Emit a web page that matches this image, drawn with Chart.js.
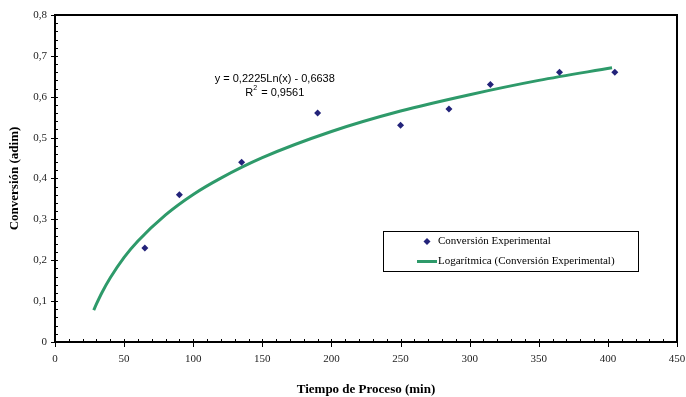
<!DOCTYPE html>
<html>
<head>
<meta charset="utf-8">
<script src="https://cdn.jsdelivr.net/npm/chart.js@4/dist/chart.umd.min.js"></script>
<style>
  html, body { margin: 0; padding: 0; background: #fff; }
  #wrap { width: 686px; height: 397px; position: relative; }
</style>
</head>
<body>
<div id="wrap"><canvas id="chart"></canvas></div>
<script>
// experimental points
const tiempo = [65, 90, 135, 190, 250, 285, 315, 365, 405];
const conversion = [0.23, 0.36, 0.44, 0.56, 0.53, 0.57, 0.63, 0.66, 0.66];

// logarithmic trend line
const trendX = [28, 30, 34, 40, 50, 60, 80, 100, 120, 150, 200, 250, 300, 350, 403];
const trendY = [0.078, 0.093, 0.121, 0.157, 0.207, 0.247, 0.311, 0.361, 0.401, 0.451, 0.515, 0.565, 0.605, 0.640, 0.671];

const xTicks = [0, 50, 100, 150, 200, 250, 300, 350, 400, 450];
const yTicks = [0, 0.1, 0.2, 0.3, 0.4, 0.5, 0.6, 0.7, 0.8];

const equation = 'y = 0,2225Ln(x) - 0,6638';
const r2Text = '0,9561';
const legendLabels = ['Conversión Experimental', 'Logarítmica (Conversión Experimental)'];

const pointColor = '#23237a';
const lineColor = '#2e9a6a';
const serif = '"Liberation Serif", "Times New Roman", serif';

const fmt = v => v === 0 ? '0' : v.toFixed(1).replace('.', ',');

// ticks, box, equation and legend drawn on top
const extras = {
    id: 'extras',
    afterDraw(chart) {
        const { ctx, chartArea: a, scales: { x, y } } = chart;
        ctx.save();
        ctx.strokeStyle = '#000';
        ctx.lineWidth = 1;

        // minor + major ticks on y
        for (let v = 0; v <= 0.8001; v += 0.02) {
            const py = Math.round(y.getPixelForValue(v)) + 0.5;
            const major = Math.abs(v * 10 - Math.round(v * 10)) < 1e-6;
            ctx.beginPath();
            ctx.moveTo(a.left - (major ? 4 : 0), py);
            ctx.lineTo(a.left + 3, py);
            ctx.stroke();
        }
        // minor + major ticks on x
        for (let v = 0; v <= 450; v += 10) {
            const px = Math.round(x.getPixelForValue(v)) + 0.5;
            const major = v % 50 === 0;
            ctx.beginPath();
            ctx.moveTo(px, a.bottom + (major ? 5 : 0));
            ctx.lineTo(px, a.bottom - 3);
            ctx.stroke();
        }

        // top and right border
        ctx.lineWidth = 2;
        ctx.beginPath();
        ctx.moveTo(a.left, a.top);
        ctx.lineTo(a.right, a.top);
        ctx.lineTo(a.right, a.bottom);
        ctx.stroke();

        // equation
        ctx.fillStyle = '#000';
        ctx.font = '11px "Liberation Sans", Arial, sans-serif';
        ctx.textAlign = 'center';
        ctx.textBaseline = 'middle';
        const ex = x.getPixelForValue(159);
        const ey = y.getPixelForValue(0.643);
        ctx.fillText(equation, ex, ey);
        ctx.textAlign = 'left';
        const rest = ' = ' + r2Text;
        const wR = ctx.measureText('R').width;
        const wRest = ctx.measureText(rest).width;
        const rx = ex - (wR + 5 + wRest) / 2;
        const ry = ey + 14;
        ctx.fillText('R', rx, ry);
        ctx.font = '7px "Liberation Sans", Arial, sans-serif';
        ctx.fillText('2', rx + wR, ry - 5);
        ctx.font = '11px "Liberation Sans", Arial, sans-serif';
        ctx.fillText(rest, rx + wR + 5, ry);

        // legend box
        const lx = 383, ly = 231, lw = 255, lh = 40;
        ctx.lineWidth = 1;
        ctx.strokeStyle = '#000';
        ctx.fillStyle = '#fff';
        ctx.fillRect(lx, ly, lw, lh);
        ctx.strokeRect(lx + 0.5, ly + 0.5, lw, lh);

        ctx.fillStyle = pointColor;
        ctx.beginPath();
        const mx = 427, my = 241.5, r = 3.5;
        ctx.moveTo(mx, my - r);
        ctx.lineTo(mx + r, my);
        ctx.lineTo(mx, my + r);
        ctx.lineTo(mx - r, my);
        ctx.closePath();
        ctx.fill();

        ctx.strokeStyle = lineColor;
        ctx.lineWidth = 3;
        ctx.beginPath();
        ctx.moveTo(417, 261.5);
        ctx.lineTo(437, 261.5);
        ctx.stroke();

        ctx.fillStyle = '#000';
        ctx.font = '11px ' + serif;
        ctx.textAlign = 'left';
        ctx.textBaseline = 'middle';
        ctx.fillText(legendLabels[0], 438, 241.5);
        ctx.fillText(legendLabels[1], 438, 261.5);
        ctx.restore();
    }
};

new Chart(document.getElementById('chart'), {
    type: 'scatter',
    data: {
        datasets: [
            {
                label: legendLabels[0],
                data: tiempo.map((t, i) => ({ x: t, y: conversion[i] })),
                pointStyle: 'rectRot',
                pointRadius: 3.5,
                backgroundColor: pointColor,
                borderColor: pointColor,
                borderWidth: 0,
                order: 1
            },
            {
                label: legendLabels[1],
                type: 'line',
                data: trendX.map((t, i) => ({ x: t, y: trendY[i] })),
                borderColor: lineColor,
                borderWidth: 3,
                pointRadius: 0,
                cubicInterpolationMode: 'monotone',
                fill: false,
                order: 2
            }
        ]
    },
    options: {
        responsive: true,
        maintainAspectRatio: false,
        animation: false,
        layout: { padding: { top: 15, right: 9, left: 0, bottom: 0 } },
        plugins: { legend: { display: false }, tooltip: { enabled: false } },
        scales: {
            x: {
                type: 'linear',
                min: 0,
                max: 450,
                afterBuildTicks: s => { s.ticks = xTicks.map(v => ({ value: v })); },
                afterFit: s => { s.height = 55; s.paddingRight = 0; s.paddingLeft = 0; },
                grid: { display: false, drawTicks: false },
                border: { display: true, color: '#000', width: 2 },
                ticks: {
                    padding: 11,
                    color: '#222',
                    maxRotation: 0,
                    font: { family: serif, size: 11 }
                },
                title: {
                    display: true,
                    text: 'Tiempo de Proceso (min)',
                    color: '#000',
                    padding: { top: 0, bottom: 0 },
                    font: { family: serif, size: 13, weight: 'bold' }
                }
            },
            y: {
                type: 'linear',
                min: 0,
                max: 0.8,
                afterBuildTicks: s => { s.ticks = yTicks.map(v => ({ value: v })); },
                afterFit: s => { s.width = 55; s.paddingTop = 0; s.paddingBottom = 0; },
                grid: { display: false, drawTicks: false },
                border: { display: true, color: '#000', width: 2 },
                ticks: {
                    padding: 8,
                    color: '#222',
                    font: { family: serif, size: 11 },
                    callback: v => fmt(v)
                },
                title: {
                    display: true,
                    text: 'Conversión (adim)',
                    color: '#000',
                    padding: { top: 7, bottom: 0 },
                    font: { family: serif, size: 13, weight: 'bold' }
                }
            }
        }
    },
    plugins: [extras]
});
</script>
</body>
</html>
